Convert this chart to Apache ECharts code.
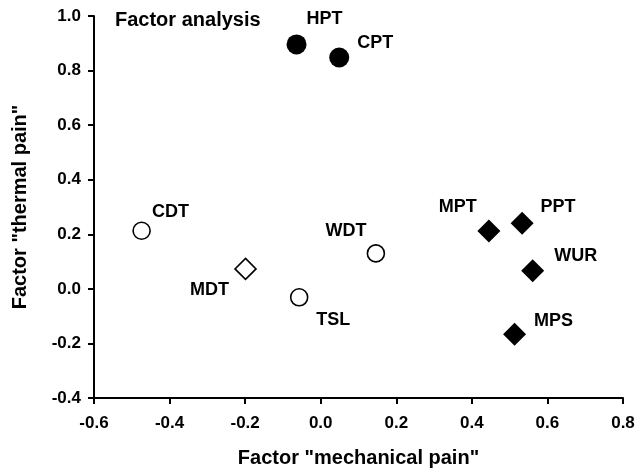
<!DOCTYPE html>
<html>
<head>
<meta charset="utf-8">
<script src="https://cdn.jsdelivr.net/npm/echarts@6/dist/echarts.min.js"></script>
<style>html,body{margin:0;padding:0;background:#fff}#c{width:638px;height:471px}</style>
</head>
<body>
<div id="c"></div>
<script>
const labels = ['HPT', 'CPT', 'CDT', 'WDT', 'TSL', 'MDT', 'MPT', 'PPT', 'WUR', 'MPS'];
const mechanicalPain = [-0.064, 0.049, -0.474, 0.146, -0.057, -0.199, 0.445, 0.533, 0.561, 0.513];
const thermalPain = [0.896, 0.848, 0.213, 0.130, -0.031, 0.073, 0.212, 0.240, 0.066, -0.166];
const groups = ['thermal', 'thermal', 'detection', 'detection', 'detection', 'mdt', 'mechanical', 'mechanical', 'mechanical', 'mechanical'];
const xTicks = [-0.6, -0.4, -0.2, 0.0, 0.2, 0.4, 0.6, 0.8];
const yTicks = [-0.4, -0.2, 0.0, 0.2, 0.4, 0.6, 0.8, 1.0];

// label placement (pixels relative to marker centre)
const labelOffsets = {
  HPT: [28, -25], CPT: [36, -14], CDT: [29, -19], WDT: [-30, -22], TSL: [34, 23],
  MDT: [-36, 21], MPT: [-31, -24], PPT: [36, -16], WUR: [43, -15], MPS: [39, -13]
};
const groupStyles = {
  thermal: { symbol: 'circle', size: 20, fill: '#000', border: 0 },
  detection: { symbol: 'circle', size: 17, fill: '#fff', border: 1.6 },
  mdt: { symbol: 'diamond', size: 21, fill: '#fff', border: 1.6 },
  mechanical: { symbol: 'diamond', size: 23, fill: '#000', border: 0 }
};

const font = 'Liberation Sans, Arial, sans-serif';
const series = Object.keys(groupStyles).map(g => {
  const st = groupStyles[g];
  const data = [];
  labels.forEach((name, i) => {
    if (groups[i] !== g) return;
    data.push({
      name: name,
      value: [mechanicalPain[i], thermalPain[i]],
      label: { offset: labelOffsets[name] }
    });
  });
  return {
    type: 'scatter',
    name: g,
    symbol: st.symbol,
    symbolSize: st.size,
    itemStyle: { color: st.fill, borderColor: '#000', borderWidth: st.border, opacity: 1 },
    label: {
      show: true, position: 'inside', formatter: '{b}',
      color: '#000', fontFamily: font, fontWeight: 'bold', fontSize: 18
    },
    emphasis: { disabled: true },
    data: data
  };
});

const chart = echarts.init(document.getElementById('c'), null, { renderer: 'canvas' });
const axisCommon = {
  axisLine: { show: true, onZero: false, lineStyle: { color: '#000', width: 2 } },
  axisTick: { show: true, inside: false, length: 6, lineStyle: { color: '#000', width: 2 } },
  splitLine: { show: false },
  nameLocation: 'middle',
  nameMoveOverlap: false,
  nameTextStyle: { color: '#000', fontFamily: font, fontWeight: 'bold', fontSize: 20 }
};
chart.setOption({
  animation: false,
  backgroundColor: '#fff',
  title: {
    text: 'Factor analysis', left: 110, top: 5,
    textStyle: { color: '#000', fontFamily: font, fontWeight: 'bold', fontSize: 20 }
  },
  grid: { left: 94, right: 15, top: 16, bottom: 73, containLabel: false, outerBoundsMode: 'none' },
  xAxis: Object.assign({}, axisCommon, {
    type: 'value', min: xTicks[0], max: xTicks[xTicks.length - 1], interval: 0.2,
    name: 'Factor "mechanical pain"', nameGap: 50,
    axisLabel: {
      color: '#000', fontFamily: font, fontWeight: 'bold', fontSize: 17, margin: 17,
      formatter: v => (Math.abs(v) < 1e-9 ? 0 : v).toFixed(1)
    }
  }),
  yAxis: Object.assign({}, axisCommon, {
    type: 'value', min: yTicks[0], max: yTicks[yTicks.length - 1], interval: 0.2,
    name: 'Factor "thermal pain"', nameGap: 64,
    axisLabel: {
      color: '#000', fontFamily: font, fontWeight: 'bold', fontSize: 17, margin: 13,
      formatter: v => (Math.abs(v) < 1e-9 ? 0 : v).toFixed(1)
    }
  }),
  series: series
});
</script>
</body>
</html>
